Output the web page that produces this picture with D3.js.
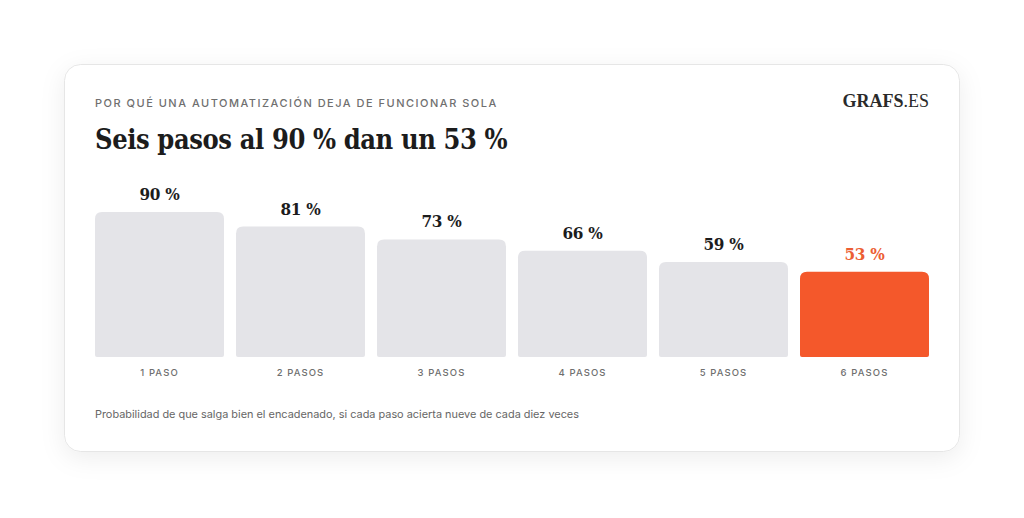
<!DOCTYPE html>
<html lang="es">
<head>
<meta charset="utf-8">
<title>Seis pasos al 90 % dan un 53 %</title>
<script src="https://cdn.jsdelivr.net/npm/d3@7"></script>
<style>
  html, body { margin: 0; padding: 0; background: #fff; }
  svg { display: block; }
  .kicker { font: 500 11px "Inter", sans-serif; letter-spacing: 1.5px; fill: #6f6f6f; }
  .title { font: 700 27px "DejaVu Serif Condensed", "DejaVu Serif", serif; fill: #1c1c1c; letter-spacing: -0.4px; }
  .brand { font: 700 18px "Liberation Serif", serif; fill: #2a2a2a; }
  .val { font: 700 17px "DejaVu Serif Condensed", "DejaVu Serif", serif; fill: #1c1c1c; letter-spacing: -0.3px; }
  .cat { font: 500 9.5px "Inter", sans-serif; letter-spacing: 1.1px; fill: #6f6f6f; }
  .note { font: 400 10.9px "Inter", sans-serif; fill: #666; }
</style>
</head>
<body>
<script>
// data
var steps = ["1 PASO", "2 PASOS", "3 PASOS", "4 PASOS", "5 PASOS", "6 PASOS"];
var probs = [90, 81, 73, 66, 59, 53];
var highlight = "6 PASOS";

var W = 1024, H = 518;
var card = {x: 64.5, y: 64.5, w: 895, h: 387, r: 16};
var plot = {left: 95, right: 929, top: 196, bottom: 357};

var svg = d3.select("body").append("svg")
    .attr("width", W)
    .attr("height", H);

var defs = svg.append("defs");
var f = defs.append("filter").attr("id", "shadow")
    .attr("x", "-10%").attr("y", "-15%").attr("width", "120%").attr("height", "135%");
f.append("feDropShadow").attr("dx", 0).attr("dy", 6).attr("stdDeviation", 12)
    .attr("flood-color", "#000").attr("flood-opacity", 0.07);

svg.append("rect")
    .attr("x", card.x).attr("y", card.y)
    .attr("width", card.w).attr("height", card.h)
    .attr("rx", card.r)
    .attr("fill", "#fff")
    .attr("stroke", "#e6e6e6")
    .attr("filter", "url(#shadow)");

svg.append("text").attr("class", "kicker")
    .attr("x", 95).attr("y", 107)
    .text("POR QUÉ UNA AUTOMATIZACIÓN DEJA DE FUNCIONAR SOLA");

svg.append("text").attr("class", "title")
    .attr("x", 95).attr("y", 149)
    .text("Seis pasos al 90 % dan un 53 %");

var brand = svg.append("text").attr("class", "brand")
    .attr("x", 929).attr("y", 107)
    .attr("text-anchor", "end");
brand.append("tspan").text("GRAFS");
brand.append("tspan").attr("font-weight", 400).text(".ES");

var x = d3.scaleBand()
    .domain(steps)
    .range([plot.left, plot.right])
    .paddingInner(12 / 141)
    .paddingOuter(0);

var y = d3.scaleLinear()
    .domain([0, 100])
    .range([plot.bottom, plot.top]);

function barPath(x0, y0, w, h, rt, rb) {
  return "M" + x0 + "," + (y0 + rt) +
    "Q" + x0 + "," + y0 + " " + (x0 + rt) + "," + y0 +
    "H" + (x0 + w - rt) +
    "Q" + (x0 + w) + "," + y0 + " " + (x0 + w) + "," + (y0 + rt) +
    "V" + (y0 + h - rb) +
    "Q" + (x0 + w) + "," + (y0 + h) + " " + (x0 + w - rb) + "," + (y0 + h) +
    "H" + (x0 + rb) +
    "Q" + x0 + "," + (y0 + h) + " " + x0 + "," + (y0 + h - rb) + "Z";
}

var data = steps.map(function(s, i) { return {step: s, value: probs[i]}; });

svg.selectAll("path.bar")
    .data(data)
  .enter().append("path")
    .attr("class", "bar")
    .attr("d", function(d) {
      return barPath(x(d.step), y(d.value), x.bandwidth(), y(0) - y(d.value), 7, 2);
    })
    .attr("fill", function(d) { return d.step === highlight ? "#f4582b" : "#e4e4e8"; });

svg.selectAll("text.val")
    .data(data)
  .enter().append("text")
    .attr("class", "val")
    .attr("x", function(d) { return x(d.step) + x.bandwidth() / 2; })
    .attr("y", function(d) { return y(d.value) - 12; })
    .attr("text-anchor", "middle")
    .style("fill", function(d) { return d.step === highlight ? "#ec5e33" : null; })
    .text(function(d) { return d.value + " %"; });

// category axis
var axis = svg.append("g")
    .attr("transform", "translate(0," + plot.bottom + ")")
    .call(d3.axisBottom(x).tickSize(0).tickPadding(12));
axis.select(".domain").remove();
axis.selectAll("text").attr("class", "cat").attr("fill", null).attr("font-size", null).attr("font-family", null);

svg.append("text").attr("class", "note")
    .attr("x", 95).attr("y", 418)
    .text("Probabilidad de que salga bien el encadenado, si cada paso acierta nueve de cada diez veces");
</script>
</body>
</html>
